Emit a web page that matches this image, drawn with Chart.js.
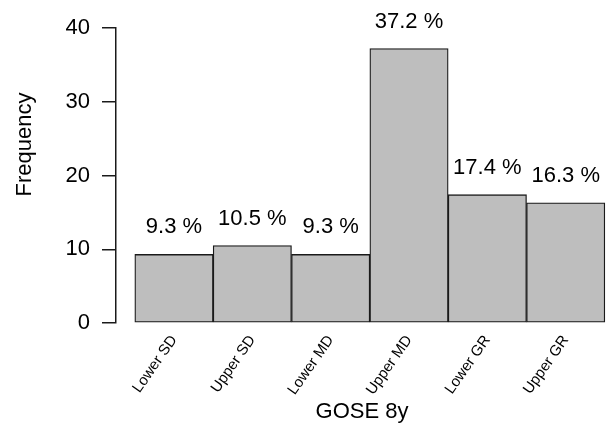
<!DOCTYPE html>
<html>
<head>
<meta charset="utf-8">
<script src="https://cdn.jsdelivr.net/npm/chart.js@4/dist/chart.umd.min.js"></script>
<style>
  body { margin: 0; background: #fff; }
  #wrap { width: 608px; height: 430px; }
</style>
</head>
<body>
<div id="wrap"><canvas id="chart"></canvas></div>
<script>
'use strict'

const categories = ['Lower SD', 'Upper SD', 'Lower MD', 'Upper MD', 'Lower GR', 'Upper GR'];
const frequency = [9.3, 10.5, 9.3, 37.2, 17.4, 16.3];
const percentLabels = ['9.3 %', '10.5 %', '9.3 %', '37.2 %', '17.4 %', '16.3 %'];
const yTicks = [0, 10, 20, 30, 40];
const xTitle = 'GOSE 8y';
const yTitle = 'Frequency';

const fontFamily = '"Liberation Sans", Arial, sans-serif';

// bars sit at the middle of each unit, like R barplot with space = 0
const points = categories.map((c, i) => ({x: i + 0.5, y: frequency[i]}));

// percent text above each bar + the y title
const labelPlugin = {
    id: 'labelPlugin',
    afterDraw(chart){
        const ctx = chart.ctx;
        const meta = chart.getDatasetMeta(0);
        ctx.save();
        ctx.fillStyle = '#000';
        ctx.font = '22px ' + fontFamily;
        ctx.textAlign = 'center';
        ctx.textBaseline = 'middle';
        meta.data.forEach((bar, i) => {
            ctx.fillText(percentLabels[i], bar.x, bar.y - 27);
        });
        // y title, centred on R's plot region rather than the axis
        const yScale = chart.scales.y;
        ctx.translate(25, yScale.getPixelForValue(24.2));
        ctx.rotate(-Math.PI / 2);
        ctx.fillText(yTitle, 0, 0);
        ctx.restore();
    }
};

const config = {
    type: 'bar',
    data: {
        datasets: [{
            data: points,
            backgroundColor: '#bebebe',
            borderColor: '#1a1a1a',
            borderWidth: 1.3,
            borderSkipped: false,
            categoryPercentage: 1,
            barPercentage: 1
        }]
    },
    options: {
        responsive: true,
        maintainAspectRatio: false,
        animation: false,
        layout: {
            padding: {top: 28, right: 0, bottom: 0, left: 0}
        },
        plugins: {
            legend: {display: false},
            tooltip: {enabled: false}
        },
        scales: {
            x: {
                type: 'linear',
                offset: false,
                min: -0.24,
                max: 6.04,
                afterBuildTicks(scale){
                    scale.ticks = categories.map((c, i) => ({value: i + 0.5}));
                },
                afterFit(scale){
                    scale.height = 107;
                },
                grid: {display: false, drawTicks: false},
                border: {display: false},
                ticks: {
                    autoSkip: false,
                    minRotation: 55,
                    maxRotation: 55,
                    padding: 9,
                    color: '#000',
                    font: {family: fontFamily, size: 15},
                    callback: (value) => categories[Math.round(value - 0.5)]
                },
                title: {
                    display: true,
                    text: xTitle,
                    color: '#000',
                    font: {family: fontFamily, size: 22},
                    padding: {top: 0, bottom: 5}
                }
            },
            y: {
                min: 0,
                max: 40,
                afterBuildTicks(scale){
                    scale.ticks = yTicks.map(v => ({value: v}));
                },
                afterFit(scale){
                    scale.width = 116;
                },
                grid: {
                    drawOnChartArea: false,
                    drawTicks: true,
                    tickLength: 14,
                    color: '#1a1a1a',
                    lineWidth: 1.5
                },
                border: {display: true, color: '#1a1a1a', width: 1.5},
                ticks: {
                    padding: 12,
                    color: '#000',
                    font: {family: fontFamily, size: 22}
                }
            }
        }
    },
    plugins: [labelPlugin]
};

new Chart(document.getElementById('chart'), config);
</script>
</body>
</html>
